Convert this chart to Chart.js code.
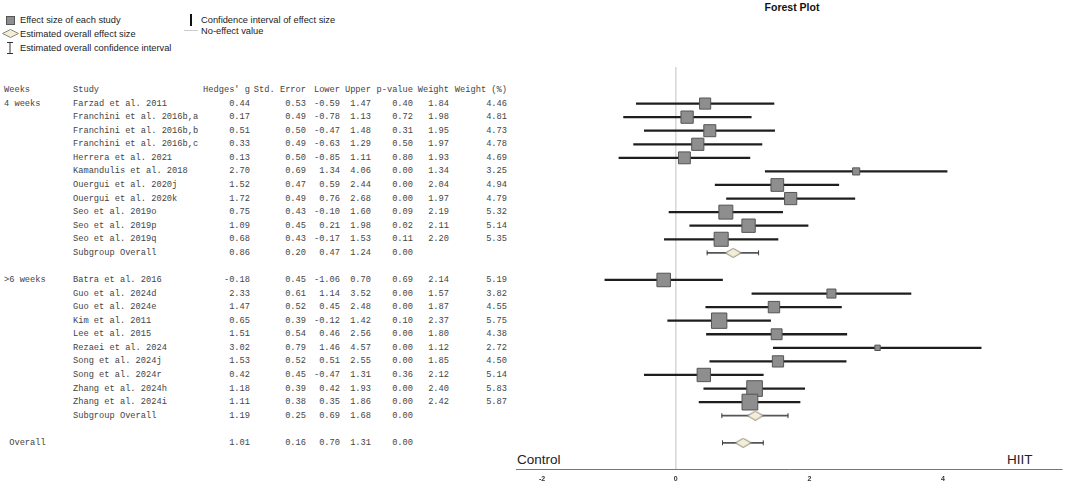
<!DOCTYPE html>
<html lang="en">
<head>
<meta charset="UTF-8">
<title>Forest Plot</title>
<script src="https://cdn.jsdelivr.net/npm/chart.js"></script>
<style>
    body {
        margin: 0;
        width: 1065px;
        height: 484px;
        background: #fff;
        position: relative;
        overflow: hidden;
        font-family: 'Liberation Sans', Arial, sans-serif;
    }
    .abs { position: absolute; white-space: pre; }
    .legend { font-size: 9.3px; color: #222; line-height: 12px; }
    .tbl { font-family: 'Liberation Mono', monospace; font-size: 8.7px; color: #444; line-height: 12px; }
    .num { text-align: right; width: 70px; }
    .side { font-size: 13.5px; color: #222; line-height: 16px; }
    #title { left: 692px; width: 200px; top: 1px; text-align: center; font-weight: bold; font-size: 10.5px; color: #111; }
    #plot { position: absolute; left: 500px; top: 0; width: 565px; height: 484px; }
</style>
</head>
<body>

<div id="title" class="abs">Forest Plot</div>

<!-- legend -->
<svg class="abs" style="left:0;top:0" width="22" height="60">
    <rect x="6.5" y="16.5" width="8" height="8" fill="#8e8e8e" stroke="#555"/>
    <path d="M2.5 33.5 L10.5 29.5 L18.5 33.5 L10.5 37.5 Z" fill="#f3eed8" stroke="#8a8778"/>
    <path d="M7 42.5 H13 M10 42.5 V53.5 M7 53.5 H13" stroke="#333" fill="none"/>
</svg>
<div class="abs legend" style="left:20px;top:14px">Effect size of each study</div>
<div class="abs legend" style="left:20px;top:27.5px">Estimated overall effect size</div>
<div class="abs legend" style="left:20px;top:42px">Estimated overall confidence interval</div>
<div class="abs" style="left:190px;top:14px;width:1.6px;height:12px;background:#111"></div>
<div class="abs" style="left:184px;top:30px;width:14px;height:1px;background:#ccc"></div>
<div class="abs legend" style="left:201px;top:14px">Confidence interval of effect size</div>
<div class="abs legend" style="left:201px;top:25px">No-effect value</div>

<div id="table"></div>

<div class="abs side" style="left:517px;top:452px">Control</div>
<div class="abs side" style="left:1007px;top:452px">HIIT</div>

<div id="plot"><canvas id="forestChart"></canvas></div>

<script>
    // ---- data ----
    const groupNames = ['4 weeks', '>6 weeks'];
    const groupCounts = [11, 10];

    const studyNames = [
        'Farzad et al. 2011', 'Franchini et al. 2016b,a', 'Franchini et al. 2016b,b', 'Franchini et al. 2016b,c',
        'Herrera et al. 2021', 'Kamandulis et al. 2018', 'Ouergui et al. 2020j', 'Ouergui et al. 2020k',
        'Seo et al. 2019o', 'Seo et al. 2019p', 'Seo et al. 2019q',
        'Batra et al. 2016', 'Guo et al. 2024d', 'Guo et al. 2024e', 'Kim et al. 2011', 'Lee et al. 2015',
        'Rezaei et al. 2024', 'Song et al. 2024j', 'Song et al. 2024r', 'Zhang et al. 2024h', 'Zhang et al. 2024i'
    ];
    const hedgesG   = [0.44, 0.17, 0.51, 0.33, 0.13, 2.70, 1.52, 1.72, 0.75, 1.09, 0.68,
                       -0.18, 2.33, 1.47, 0.65, 1.51, 3.02, 1.53, 0.42, 1.18, 1.11];
    const stdError  = [0.53, 0.49, 0.50, 0.49, 0.50, 0.69, 0.47, 0.49, 0.43, 0.45, 0.43,
                       0.45, 0.61, 0.52, 0.39, 0.54, 0.79, 0.52, 0.45, 0.39, 0.38];
    const lowerCI   = [-0.59, -0.78, -0.47, -0.63, -0.85, 1.34, 0.59, 0.76, -0.10, 0.21, -0.17,
                       -1.06, 1.14, 0.45, -0.12, 0.46, 1.46, 0.51, -0.47, 0.42, 0.35];
    const upperCI   = [1.47, 1.13, 1.48, 1.29, 1.11, 4.06, 2.44, 2.68, 1.60, 1.98, 1.53,
                       0.70, 3.52, 2.48, 1.42, 2.56, 4.57, 2.55, 1.31, 1.93, 1.86];
    const pValues   = [0.40, 0.72, 0.31, 0.50, 0.80, 0.00, 0.00, 0.00, 0.09, 0.02, 0.11,
                       0.69, 0.00, 0.00, 0.10, 0.00, 0.00, 0.00, 0.36, 0.00, 0.00];
    const weights   = [1.84, 1.98, 1.95, 1.97, 1.93, 1.34, 2.04, 1.97, 2.19, 2.11, 2.20,
                       2.14, 1.57, 1.87, 2.37, 1.80, 1.12, 1.85, 2.12, 2.40, 2.42];
    const weightPct = [4.46, 4.81, 4.73, 4.78, 4.69, 3.25, 4.94, 4.79, 5.32, 5.14, 5.35,
                       5.19, 3.82, 4.55, 5.75, 4.38, 2.72, 4.50, 5.14, 5.83, 5.87];

    // subgroup 1, subgroup 2, overall
    const summaryLabels = ['Subgroup Overall', 'Subgroup Overall', 'Overall'];
    const summaryG      = [0.86, 1.19, 1.01];
    const summarySE     = [0.20, 0.25, 0.16];
    const summaryLower  = [0.47, 0.69, 0.70];
    const summaryUpper  = [1.24, 1.68, 1.31];
    const summaryP      = [0.00, 0.00, 0.00];

    const headers = ['Weeks', 'Study', "Hedges' g", 'Std. Error', 'Lower', 'Upper', 'p-value', 'Weight', 'Weight (%)'];
    const xTicks = [-2, 0, 2, 4];

    // ---- build rows (row 0 = header) ----
    const rows = [];
    let row = 1, k = 0;
    groupNames.forEach((g, gi) => {
        for (let j = 0; j < groupCounts[gi]; j++, k++) {
            rows.push({ row: row++, kind: 'study', week: j === 0 ? g : '', name: studyNames[k],
                vals: [hedgesG[k], stdError[k], lowerCI[k], upperCI[k], pValues[k], weights[k], weightPct[k]],
                g: hedgesG[k], lo: lowerCI[k], hi: upperCI[k], wp: weightPct[k] });
        }
        rows.push({ row: row++, kind: 'summary', week: '', name: summaryLabels[gi],
            vals: [summaryG[gi], summarySE[gi], summaryLower[gi], summaryUpper[gi], summaryP[gi]],
            g: summaryG[gi], lo: summaryLower[gi], hi: summaryUpper[gi] });
        row++; // blank line
    });
    rows.push({ row: row, kind: 'summary', week: ' Overall', name: '',
        vals: [summaryG[2], summarySE[2], summaryLower[2], summaryUpper[2], summaryP[2]],
        g: summaryG[2], lo: summaryLower[2], hi: summaryUpper[2] });

    const studies = rows.filter(r => r.kind === 'study');
    const summaries = rows.filter(r => r.kind === 'summary');

    // diamond marker for pooled estimates
    const diamond = document.createElement('canvas');
    diamond.width = 17;
    diamond.height = 10;
    (function () {
        const c = diamond.getContext('2d');
        c.beginPath();
        c.moveTo(0.5, 5); c.lineTo(8.5, 0.5); c.lineTo(16.5, 5); c.lineTo(8.5, 9.5); c.closePath();
        c.fillStyle = '#f3eed8';
        c.fill();
        c.strokeStyle = '#8a8778';
        c.lineWidth = 1;
        c.stroke();
    })();

    const ctx = document.getElementById('forestChart').getContext('2d');

    const forestChart = new Chart(ctx, {
        type: 'scatter',
        data: {
            datasets: [
                {
                    type: 'bar',
                    indexAxis: 'y',
                    data: studies.map(r => ({ x: [r.lo, r.hi], y: r.row })),
                    backgroundColor: '#1e1e1e',
                    barThickness: 1.6,
                    grouped: false,
                    borderWidth: 0,
                    order: 4
                },
                {
                    type: 'bar',
                    indexAxis: 'y',
                    data: summaries.map(r => ({ x: [r.lo, r.hi], y: r.row })),
                    backgroundColor: '#555',
                    barThickness: 1,
                    grouped: false,
                    borderWidth: 0,
                    order: 3
                },
                {
                    // whisker caps
                    data: summaries.flatMap(r => [{ x: r.lo, y: r.row }, { x: r.hi, y: r.row }]),
                    pointStyle: 'line',
                    rotation: 90,
                    pointRadius: 2.5,
                    borderColor: '#444',
                    borderWidth: 1,
                    order: 2
                },
                {
                    data: studies.map(r => ({ x: r.g, y: r.row, wp: r.wp })),
                    pointStyle: 'rect',
                    pointRadius: c => (3.3 * c.raw.wp - 3.6) / Math.SQRT2,
                    backgroundColor: '#8e8e8e',
                    borderColor: '#555',
                    borderWidth: 1,
                    order: 1
                },
                {
                    data: summaries.map(r => ({ x: r.g, y: r.row })),
                    pointStyle: diamond,
                    order: 0
                }
            ]
        },
        options: {
            responsive: true,
            maintainAspectRatio: false,
            animation: false,
            layout: { autoPadding: false, padding: { left: 16, right: 3, top: 67, bottom: 0 } },
            plugins: { legend: { display: false }, tooltip: { enabled: false } },
            scales: {
                x: {
                    type: 'linear',
                    offset: false,
                    min: -2.39,
                    max: 5.78,
                    afterFit: s => { s.height = 15; },
                    afterBuildTicks: s => { s.ticks = xTicks.map(v => ({ value: v })); },
                    ticks: {
                        padding: 6,
                        color: '#333',
                        font: { family: 'Liberation Sans', size: 7, weight: 'bold' }
                    },
                    grid: {
                        drawTicks: false,
                        offset: false,
                        color: c => (c.tick && c.tick.value === 0 ? '#d9d9d9' : 'rgba(0,0,0,0)'),
                        lineWidth: 1.6
                    },
                    border: { display: true, color: '#777', width: 1 }
                },
                y: {
                    type: 'linear',
                    display: false,
                    offset: false,
                    reverse: true,
                    min: -1.695,
                    max: 27.93
                }
            }
        }
    });

    // ---- table text, lined up on the chart's own row scale ----
    const colRight = [250, 306, 340, 371, 413, 449, 507];
    const table = document.getElementById('table');
    function addText(text, x, y, right) {
        const d = document.createElement('div');
        d.className = 'abs tbl' + (right ? ' num' : '');
        d.textContent = text;
        d.style.top = (y - 6) + 'px';
        d.style.left = (right ? x - 70 : x) + 'px';
        table.appendChild(d);
    }
    const yScale = forestChart.scales.y;
    const hy = yScale.getPixelForValue(0);
    addText(headers[0], 4, hy, false);
    addText(headers[1], 73, hy, false);
    headers.slice(2).forEach((h, i) => addText(h, colRight[i], hy, true));
    rows.forEach(r => {
        const y = yScale.getPixelForValue(r.row);
        if (r.week) addText(r.week, 4, y, false);
        if (r.name) addText(r.name, 73, y, false);
        r.vals.forEach((v, i) => addText(v.toFixed(2), colRight[i], y, true));
    });
</script>

</body>
</html>
